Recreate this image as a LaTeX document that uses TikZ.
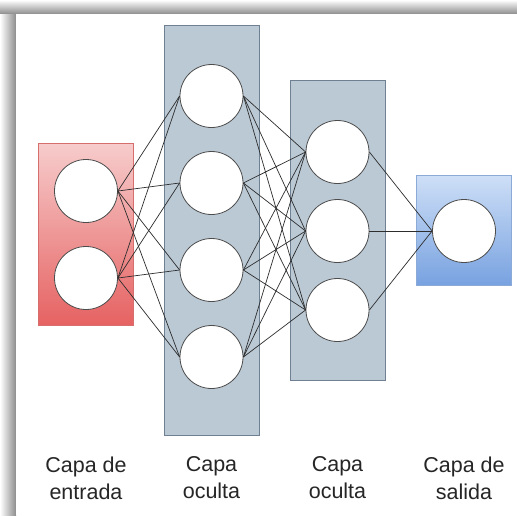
\documentclass[tikz,border=0pt]{standalone}
\usepackage{fontspec}
\setmainfont{Liberation Sans}
\usetikzlibrary{positioning}
\definecolor{InTop}{RGB}{247,204,204}
\definecolor{InBottom}{RGB}{230,98,98}
\definecolor{InEdge}{RGB}{214,110,110}
\definecolor{HiddenFill}{RGB}{187,201,213}
\definecolor{HiddenEdge}{RGB}{110,128,146}
\definecolor{OutTop}{RGB}{206,223,247}
\definecolor{OutBottom}{RGB}{120,162,224}
\definecolor{OutEdge}{RGB}{140,170,215}
\definecolor{LinkGray}{RGB}{45,45,45}

\begin{document}
\begin{tikzpicture}[x=1pt,y=-1pt,
    neuron/.style={draw=LinkGray!85,line width=0.8pt,circle,fill=white,minimum size=63pt,inner sep=0pt},
    link/.style={LinkGray,line width=0.7pt},
    layername/.style={align=center,text=black!85,font=\fontsize{21.5}{27}\selectfont}]
      \useasboundingbox (0,0) rectangle (517,515);
      % panel and its shadow
      \shade[top color=white,bottom color=black!45] (0,0) rectangle (517,14);
      \shade[left color=white,right color=black!45] (0,14) rectangle (16,515);
      \fill[white] (16,14) rectangle (517,515);
      % layer boxes
      \shade[top color=InTop,bottom color=InBottom,draw=InEdge] (38.5,143) rectangle (133,325);
      \filldraw[fill=HiddenFill,draw=HiddenEdge] (164,25) rectangle (259,435);
      \filldraw[fill=HiddenFill,draw=HiddenEdge] (290,80) rectangle (385,380);
      \shade[top color=OutTop,bottom color=OutBottom,draw=OutEdge] (416,175) rectangle (511,285);
      % neurons
      \node[neuron] (in1) at (86,191) {};
      \node[neuron] (in2) at (86,278) {};
      \node[neuron] (ha1) at (211.5,96) {};
      \node[neuron] (ha2) at (211.5,183) {};
      \node[neuron] (ha3) at (211.5,270) {};
      \node[neuron] (ha4) at (211.5,357) {};
      \node[neuron] (hb1) at (337.5,152) {};
      \node[neuron] (hb2) at (337.5,231) {};
      \node[neuron] (hb3) at (337.5,310) {};
      \node[neuron] (out) at (464,231) {};
      % links
      \foreach \i in {1,2} \foreach \j in {1,...,4}
        \draw[link] (in\i.east) -- (ha\j.west);
      \foreach \i in {1,...,4} \foreach \j in {1,2,3}
        \draw[link] (ha\i.east) -- (hb\j.west);
      \foreach \i in {1,2,3}
        \draw[link] (hb\i.east) -- (out.west);
      % layer names
      \node[layername] (nin) at (86,478) {Capa de\\entrada};
      \node[layername] (nha) at (211.5,478) {Capa\\oculta};
      \node[layername] (nhb) at (337.5,478) {Capa\\oculta};
      \node[layername] (nout) at (464,478) {Capa de\\salida};
    \end{tikzpicture}
\end{document}
